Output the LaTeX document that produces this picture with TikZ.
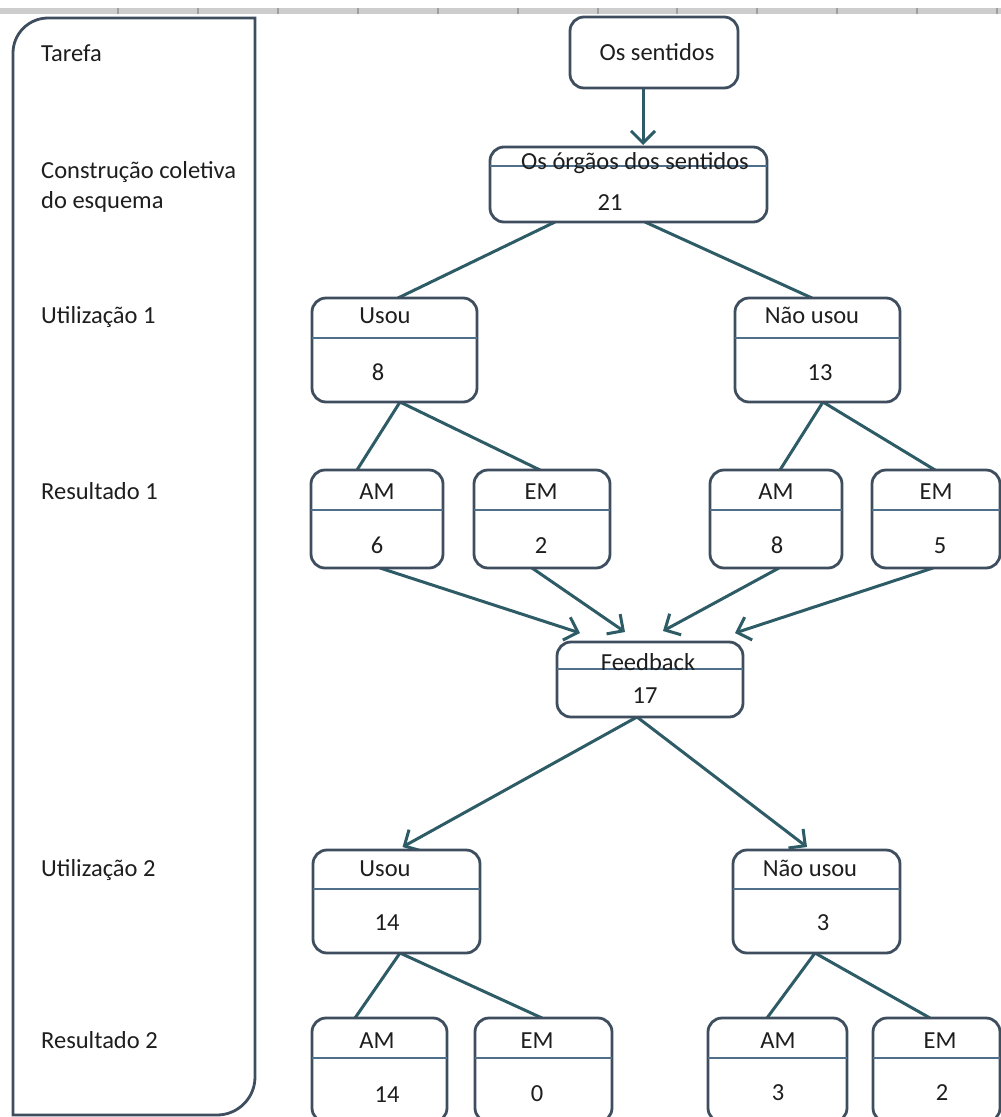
\documentclass[tikz,border=0pt]{standalone}
\usepackage{fontspec}
\setmainfont{Carlito}
\usetikzlibrary{arrows.meta,backgrounds}

\definecolor{boxline}{HTML}{3E4E5E}
\definecolor{conn}{HTML}{2D5B66}
\definecolor{divcol}{HTML}{4F6F8A}
\definecolor{ink}{HTML}{1E1E1E}
\definecolor{rulergray}{HTML}{CDCDCD}

\tikzset{
  box/.style={draw=boxline, line width=2.8pt, rounded corners=14pt, fill=white,
              inner sep=0pt, outer sep=0pt},
  lbl/.style={text=ink, font=\fontsize{24.5}{29}\selectfont, inner sep=0pt, anchor=base},
  side/.style={lbl, anchor=base west},
  link/.style={draw=conn, line width=3pt},
  arr/.style={link, -{Straight Barb[length=12pt,width=24pt]}},
  divider/.style={draw=divcol, line width=1.3pt},
}

\begin{document}
\begin{tikzpicture}[x=1pt, y=-1pt]
  \useasboundingbox (0,0) rectangle (1001,1117);
  \clip (0,0) rectangle (1001,1117);

  % ruler strip along the top edge
  \fill[rulergray] (0,8) rectangle (1001,14);
  \foreach \x in {118,198,278,358,438,518,598,677,757,837,917,997}
    \draw[gray!75, line width=1.4pt] (\x,8) -- (\x,14);

  % side panel with the stage names
  \draw[draw=boxline, line width=2.8pt, fill=white]
    (13,1115) -- (13,53) .. controls (13,33.7) and (28.7,18) .. (48,18)
    -- (255,18) -- (255,1077) .. controls (255,1098) and (238,1115) .. (217,1115)
    -- cycle;

  \node[side] (sTarefa) at (41,61)   {Tarefa};
  \node[side] (sCons)   at (41,178)  {Construção coletiva};
  \node[side] (sEsq)    at (41,208)  {do esquema};
  \node[side] (sUt1)    at (41,323)  {Utilização 1};
  \node[side] (sRes1)   at (41,499)  {Resultado 1};
  \node[side] (sUt2)    at (41,876)  {Utilização 2};
  \node[side] (sRes2)   at (41,1048) {Resultado 2};

  % boxes
  \node[box, minimum width=168pt, minimum height=71pt]  (sent) at (654,52.5)  {};
  \node[box, minimum width=277pt, minimum height=75pt]  (org)  at (628.5,184.5) {};
  \node[box, minimum width=165pt, minimum height=104pt] (u1)   at (394.5,350) {};
  \node[box, minimum width=165pt, minimum height=104pt] (n1)   at (817.5,350) {};
  \node[box, minimum width=132pt, minimum height=98pt]  (am1)  at (377,519)   {};
  \node[box, minimum width=136pt, minimum height=98pt]  (em1)  at (542,519)   {};
  \node[box, minimum width=132pt, minimum height=98pt]  (am1b) at (776,519)   {};
  \node[box, minimum width=128pt, minimum height=98pt]  (em1b) at (936,519)   {};
  \node[box, minimum width=186pt, minimum height=75pt]  (fb)   at (650,679.5) {};
  \node[box, minimum width=167pt, minimum height=103pt] (u2)   at (396.5,901.5) {};
  \node[box, minimum width=167pt, minimum height=103pt] (n2)   at (816.5,901.5) {};
  \node[box, minimum width=135pt, minimum height=104pt] (am2)  at (379.5,1070) {};
  \node[box, minimum width=137pt, minimum height=104pt] (em2)  at (543.5,1070) {};
  \node[box, minimum width=139pt, minimum height=104pt] (am2b) at (777.5,1070) {};
  \node[box, minimum width=127pt, minimum height=104pt] (em2b) at (936.5,1070) {};

  % dividers between title and count
  \draw[divider] (org.west |- 0,166)  -- (org.east |- 0,166);
  \draw[divider] (u1.west |- 0,338)   -- (u1.east |- 0,338);
  \draw[divider] (n1.west |- 0,338)   -- (n1.east |- 0,338);
  \draw[divider] (am1.west |- 0,510)  -- (am1.east |- 0,510);
  \draw[divider] (em1.west |- 0,510)  -- (em1.east |- 0,510);
  \draw[divider] (am1b.west |- 0,510) -- (am1b.east |- 0,510);
  \draw[divider] (em1b.west |- 0,510) -- (em1b.east |- 0,510);
  \draw[divider] (fb.west |- 0,669)   -- (fb.east |- 0,669);
  \draw[divider] (u2.west |- 0,889)   -- (u2.east |- 0,889);
  \draw[divider] (n2.west |- 0,889)   -- (n2.east |- 0,889);
  \draw[divider] (am2.west |- 0,1058)  -- (am2.east |- 0,1058);
  \draw[divider] (em2.west |- 0,1058)  -- (em2.east |- 0,1058);
  \draw[divider] (am2b.west |- 0,1058) -- (am2b.east |- 0,1058);
  \draw[divider] (em2b.west |- 0,1058) -- (em2b.east |- 0,1058);

  % box texts
  \node[lbl] (tSent) at (657,60)   {Os sentidos};
  \node[lbl] (tOrg)  at (635,169)  {Os órgãos dos sentidos};
  \node[lbl] (cOrg)  at (610,210)  {21};
  \node[lbl] (tU1)   at (385,323)  {Usou};
  \node[lbl] (cU1)   at (378,380)  {8};
  \node[lbl] (tN1)   at (812,323)  {Não usou};
  \node[lbl] (cN1)   at (820,380)  {13};
  \node[lbl] (tAm1)  at (377,499)  {AM};
  \node[lbl] (cAm1)  at (377,553)  {6};
  \node[lbl] (tEm1)  at (541,499)  {EM};
  \node[lbl] (cEm1)  at (541,553)  {2};
  \node[lbl] (tAm1b) at (776,499)  {AM};
  \node[lbl] (cAm1b) at (777,553)  {8};
  \node[lbl] (tEm1b) at (936,499)  {EM};
  \node[lbl] (cEm1b) at (940,553)  {5};
  \node[lbl] (tFb)   at (648,670)  {Feedback};
  \node[lbl] (cFb)   at (645,703)  {17};
  \node[lbl] (tU2)   at (385,876)  {Usou};
  \node[lbl] (cU2)   at (387,930)  {14};
  \node[lbl] (tN2)   at (810,876)  {Não usou};
  \node[lbl] (cN2)   at (823,930)  {3};
  \node[lbl] (tAm2)  at (377,1048) {AM};
  \node[lbl] (cAm2)  at (387,1102) {14};
  \node[lbl] (tEm2)  at (537,1048) {EM};
  \node[lbl] (cEm2)  at (537,1101) {0};
  \node[lbl] (tAm2b) at (778,1048) {AM};
  \node[lbl] (cAm2b) at (778,1100) {3};
  \node[lbl] (tEm2b) at (940,1048) {EM};
  \node[lbl] (cEm2b) at (942,1100) {2};

  % connectors, kept behind the boxes (yshift is in page units: positive is up)
  \begin{scope}[on background layer]
    \draw[arr] ([xshift=-11pt]sent.south) -- ([xshift=-11pt,yshift=2pt]sent.south |- org.north);
    \draw[link] ([xshift=-73.5pt]org.south) -- ([xshift=3.5pt]u1.north);
    \draw[link] ([xshift=16.5pt]org.south)  -- ([xshift=-5.5pt]n1.north);

    \draw[link] ([xshift=5.5pt]u1.south) -- ([xshift=-20pt]am1.north);
    \draw[link] ([xshift=5.5pt]u1.south) -- ([xshift=-2pt]em1.north);
    \draw[link] ([xshift=5.5pt]n1.south) -- ([xshift=4pt]am1b.north);
    \draw[link] ([xshift=5.5pt]n1.south) -- ([xshift=-1pt]em1b.north);

    \draw[arr] ([xshift=3pt]am1.south)   -- ([xshift=-70pt,yshift=9pt]fb.north);
    \draw[arr] ([xshift=-10pt]em1.south) -- ([xshift=-25pt,yshift=10pt]fb.north);
    \draw[arr] ([xshift=3pt]am1b.south)  -- ([xshift=13pt,yshift=11pt]fb.north);
    \draw[arr] ([xshift=-3pt]em1b.south) -- ([xshift=85pt,yshift=9pt]fb.north);

    \draw[arr] ([xshift=-13pt]fb.south) -- ([xshift=6pt,yshift=3pt]u2.north);
    \draw[arr] ([xshift=-13pt]fb.south) -- ([xshift=-9.5pt,yshift=3pt]n2.north);

    \draw[link] ([xshift=3.5pt]u2.south)  -- ([xshift=-24.5pt]am2.north);
    \draw[link] ([xshift=3.5pt]u2.south)  -- ([xshift=-1.5pt]em2.north);
    \draw[link] ([xshift=-1.5pt]n2.south) -- ([xshift=-10.5pt]am2b.north);
    \draw[link] ([xshift=-1.5pt]n2.south) -- ([xshift=-6.5pt]em2b.north);
  \end{scope}
\end{tikzpicture}
\end{document}
